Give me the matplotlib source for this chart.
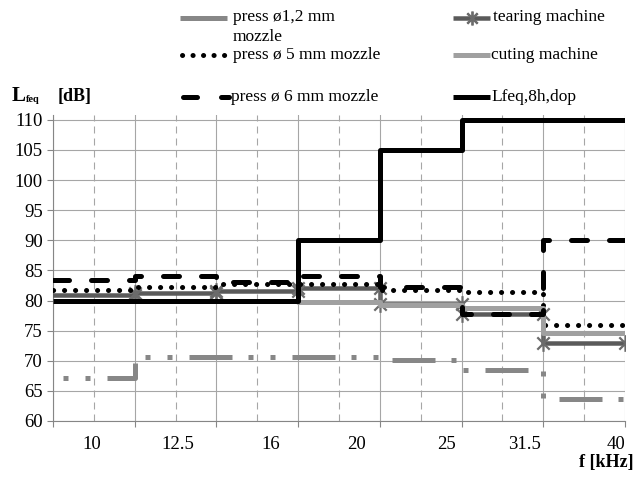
import numpy as np
import matplotlib
matplotlib.use("Agg")
import matplotlib.pyplot as plt
from matplotlib.lines import Line2D
from matplotlib.path import Path

plt.rcParams['font.family'] = ['Liberation Serif', 'DejaVu Serif']
plt.rcParams['lines.scale_dashes'] = False

# frequency bands (one step per band)
band_labels = ["10", "12.5", "16", "20", "25", "31.5", "40"]
n_bands = len(band_labels)

# levels per band [dB]
press_12 = [67.2, 70.6, 70.6, 70.6, 70.1, 68.5, 63.7]
tearing = [81.0, 81.3, 81.6, 82.1, 79.5, 77.8, 73.0]
press_5 = [81.8, 82.3, 82.8, 82.7, 81.7, 81.4, 76.0]
cutting = [80.0, 80.0, 80.0, 79.8, 79.2, 78.7, 74.6]
press_6 = [83.4, 84.1, 83.1, 84.1, 82.2, 77.8, 90.0]
lfeq_dop = [80.0, 80.0, 80.0, 90.0, 105.0, 110.0, 110.0]

PX = 0.72  # points per pixel at dpi 100


def steps(levels):
    edges = np.arange(len(levels) + 1)
    x = np.repeat(edges, 2)[1:-1]
    y = np.repeat(levels, 2)
    return x, y


star = Path([(-1, -1), (1, 1), (-1, 1), (1, -1), (0, -1.35), (0, 1.35)],
            [Path.MOVETO, Path.LINETO] * 3)

fig = plt.figure(figsize=(6.37, 4.78), dpi=100)
ax = fig.add_axes([53 / 637, 1 - 421 / 478, 572 / 637, 306 / 478])

lw = 5 * PX
x, y = steps(press_12)
ax.plot(x, y, color='#878787', lw=lw, solid_capstyle='butt', dash_capstyle='butt',
        ls=(49 * PX, (43 * PX, 16 * PX, 5 * PX, 17 * PX, 5 * PX, 17 * PX)), zorder=3)

x, y = steps(tearing)
ax.plot(x, y, color='#5a5a5a', lw=4.5 * PX, zorder=4)
ax.plot(x[1:], y[1:], ls='none', marker=star, ms=12, mew=1.6,
        mec='#6b6b6b', zorder=4.5)

x, y = steps(press_5)
ax.plot(x, y, color='black', lw=lw, dash_capstyle='round',
        dashes=(0.1, 11 * PX - 0.1), zorder=5)

x, y = steps(cutting)
ax.plot(x, y, color='#a0a0a0', lw=lw, solid_capstyle='butt', zorder=6)

x, y = steps(press_6)
ax.plot(x, y, color='black', lw=lw, dash_capstyle='round',
        dashes=(16 * PX, 22 * PX), zorder=7)

x, y = steps(lfeq_dop)
ax.plot(x, y, color='black', lw=lw, solid_capstyle='butt', zorder=8)

ax.set_xlim(0, n_bands)
ax.set_ylim(60, 110.8)
ax.set_yticks(np.arange(60, 111, 5))
ax.set_xticks(np.arange(0, n_bands + 1))
ax.set_xticks(np.arange(0.5, n_bands, 1), minor=True)
ax.set_xticklabels([])
ax.tick_params(axis='x', which='minor', length=0)
ax.tick_params(axis='both', which='major', direction='out', length=6 * PX,
               color='#868686', width=0.8, labelsize=13.5, pad=3)
ax.grid(axis='y', color='#a6a6a6', lw=0.8)
ax.grid(axis='x', which='major', color='#a6a6a6', lw=0.8)
ax.grid(axis='x', which='minor', color='#a6a6a6', lw=0.8, dashes=(7 * PX, 5 * PX))
for s in ['top', 'right']:
    ax.spines[s].set_visible(False)
for s in ['left', 'bottom']:
    ax.spines[s].set_color('#868686')
    ax.spines[s].set_linewidth(0.8)

label_pos = [0.47, 1.53, 2.67, 3.71, 4.81, 5.77, 6.89]
for p, t in zip(label_pos, band_labels):
    ax.text(p, -0.078, t, transform=ax.get_xaxis_transform(), ha='center',
            va='center', fontsize=13.5)

# axis titles
fig.text(12 / 637, 1 - 96 / 478, "L", fontsize=15, fontweight='bold', va='center')
fig.text(26 / 637, 1 - 100 / 478, "feq", fontsize=7.5, fontweight='bold', va='center')
fig.text(58 / 637, 1 - 96 / 478, "[dB]", fontsize=13, fontweight='bold', va='center')
fig.text(634 / 637, 1 - 463 / 478, "f [kHz]", fontsize=13, fontweight='bold',
         ha='right', va='center')

# legend, drawn by hand to follow the original's uneven rows
def leg_line(x0, x1, yc, **kw):
    fig.add_artist(Line2D([x0 / 637, x1 / 637], [1 - yc / 478] * 2,
                          transform=fig.transFigure, **kw))


def leg_text(x0, yc, s):
    fig.text(x0 / 637, 1 - yc / 478, s, fontsize=12.5, va='center')


leg_line(180, 227, 18, color='#878787', lw=lw, solid_capstyle='butt')
leg_text(233, 17, "press ø1,2 mm")
leg_text(233, 37, "mozzle")
leg_line(182, 230, 55, color='black', lw=lw, dash_capstyle='round',
         dashes=(0.1, 10.5 * PX - 0.1))
leg_text(233, 55, "press ø 5 mm mozzle")
leg_line(183, 229, 97, color='black', lw=lw, dash_capstyle='round',
         ls=(0, (14 * PX, 24 * PX)))
leg_text(231, 97, "press ø 6 mm mozzle")

leg_line(453, 490, 18, color='#5a5a5a', lw=4.5 * PX, solid_capstyle='butt')
leg_line(472, 472, 18, ls='none', marker=star, ms=10, mew=1.6, mec='#6b6b6b')
leg_text(493, 17, "tearing machine")
leg_line(453, 490, 55, color='#a0a0a0', lw=lw, solid_capstyle='butt')
leg_text(491, 55, "cuting machine")
leg_line(453, 490, 97, color='black', lw=lw, solid_capstyle='butt')
leg_text(491, 97, "Lfeq,8h,dop")

fig.savefig("out.png", dpi=100)
